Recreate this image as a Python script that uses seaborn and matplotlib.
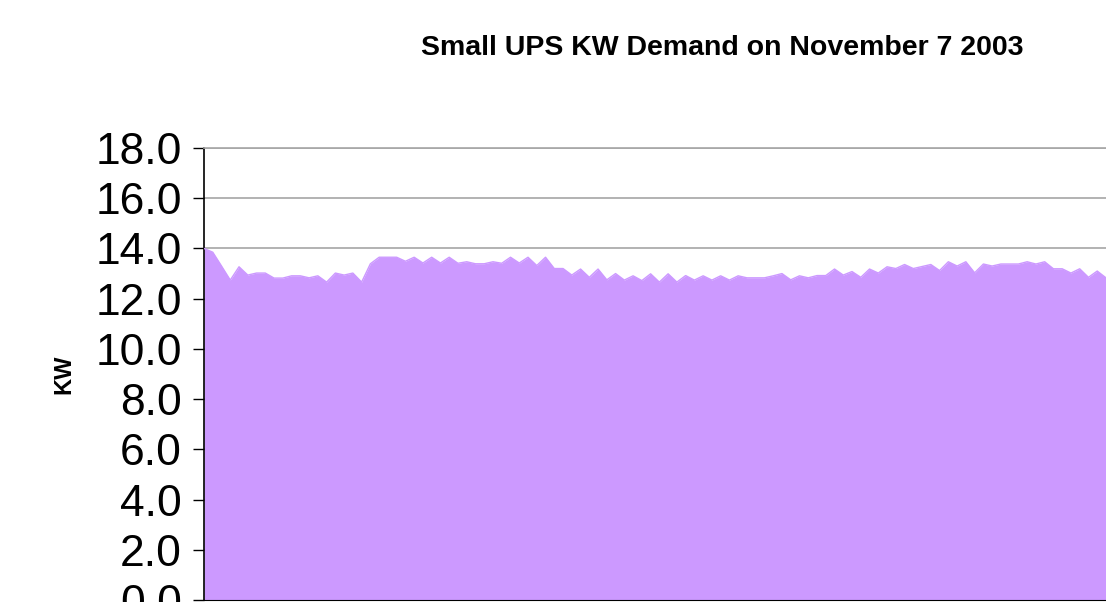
import numpy as np
import pandas as pd
import matplotlib
matplotlib.use('Agg')
import matplotlib.pyplot as plt
import seaborn as sns

# KW readings (one per interval, visible part only)
kw = [14.00, 13.85, 13.30, 12.74, 13.27, 12.94, 13.02, 13.02, 12.82, 12.82,
      12.91, 12.91, 12.83, 12.91, 12.66, 13.02, 12.94, 13.02, 12.66, 13.39,
      13.65, 13.65, 13.65, 13.49, 13.65, 13.42, 13.65, 13.42, 13.65, 13.41,
      13.47, 13.39, 13.39, 13.47, 13.41, 13.65, 13.42, 13.65, 13.32, 13.65,
      13.20, 13.20, 12.94, 13.18, 12.85, 13.18, 12.75, 13.00, 12.74, 12.91,
      12.72, 12.99, 12.66, 12.99, 12.66, 12.92, 12.74, 12.91, 12.74, 12.91,
      12.74, 12.91, 12.83, 12.83, 12.83, 12.91, 13.00, 12.75, 12.91, 12.83,
      12.92, 12.92, 13.18, 12.94, 13.08, 12.85, 13.18, 13.02, 13.27, 13.20,
      13.36, 13.20, 13.28, 13.36, 13.12, 13.47, 13.30, 13.47, 13.03, 13.38,
      13.30, 13.38, 13.38, 13.38, 13.47, 13.38, 13.47, 13.19, 13.19, 13.02,
      13.19, 12.85, 13.10, 12.83]
interval = list(range(len(kw)))
y_ticks = [0, 2, 4, 6, 8, 10, 12, 14, 16, 18]

df = pd.DataFrame({'interval': interval, 'KW': kw})

sns.set_style('white')
plt.rcParams['font.family'] = ['Liberation Sans', 'DejaVu Sans']
plt.rcParams['text.color'] = 'black'
plt.rcParams['axes.labelcolor'] = 'black'
plt.rcParams['ytick.color'] = 'black'

fill = '#CC99FF'
fig = plt.figure(figsize=(11.06, 6.02), dpi=100)
# plot area runs past the right edge of the picture
ax = fig.add_axes([204 / 1106, 2 / 602, 110 * 8.757 / 1106, 452 / 602])

ax.fill_between(df['interval'], df['KW'], 0, color=fill, linewidth=0, zorder=2)
sns.lineplot(x='interval', y='KW', data=df, color=fill, linewidth=1, ax=ax, zorder=3)

ax.set_xlim(0, 110)
ax.set_ylim(0, 18)
ax.set_yticks(y_ticks)
ax.set_yticklabels([f'{v:.1f}' for v in y_ticks], fontsize=32)
ax.set_xticks(interval)
ax.set_xticklabels([])
ax.tick_params(axis='x', direction='out', length=6, color='#808080', width=1)
ax.tick_params(axis='y', direction='out', length=8, color='black', labelcolor='black',
               width=1, pad=8, left=True)
ax.yaxis.grid(True, color='#a6a6a6', linewidth=1.2, zorder=1)
ax.set_axisbelow(True)

ax.spines['left'].set_color('black')
ax.spines['left'].set_linewidth(1.2)
ax.spines['bottom'].set_color('black')
ax.spines['top'].set_color('#a6a6a6')
ax.spines['top'].set_linewidth(1.2)
ax.spines['right'].set_visible(False)

ax.set_xlabel('')
ax.set_ylabel('KW', fontsize=17, fontweight='bold', labelpad=14, color='black')

fig.text(722 / 1106, 1 - 48 / 602, 'Small UPS KW Demand on November 7 2003',
         ha='center', va='center', fontsize=20.5, fontweight='bold', color='black')

fig.savefig('out.png', dpi=100)
